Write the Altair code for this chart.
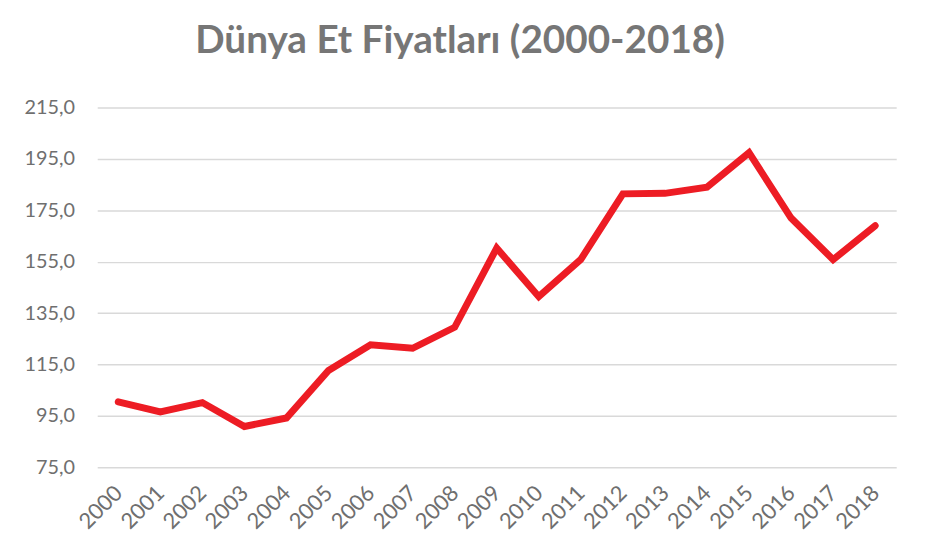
import altair as alt
import pandas as pd

years = [str(y) for y in range(2000, 2019)]
values = [100.5, 96.6, 100.2, 90.9, 94.2, 112.7, 122.7, 121.3, 129.5, 160.3,
          141.4, 155.9, 181.4, 181.6, 184.0, 197.4, 172.0, 155.8, 169.0]
y_ticks = [75, 95, 115, 135, 155, 175, 195, 215]
title_text = "Dünya Et Fiyatları (2000-2018)"

df = pd.DataFrame({"Yıl": years, "Fiyat": values})

FONT = "Lato"
GREY = "#6f6f6f"

chart = alt.Chart(df).mark_line(
    color="#ED1C24", strokeWidth=7, strokeCap="round", strokeJoin="miter"
).encode(
    x=alt.X("Yıl:O", sort=years, title=None,
            axis=alt.Axis(labelAngle=-45, labelAlign="right", labelBaseline="middle",
                          labelPadding=22, domain=False, ticks=False, grid=False,
                          labelFont=FONT, labelFontSize=22, labelColor=GREY)),
    y=alt.Y("Fiyat:Q", title=None,
            scale=alt.Scale(domain=[75, 215], nice=False, zero=False),
            axis=alt.Axis(values=y_ticks, domain=False, ticks=False,
                          labelExpr="replace(format(datum.value, '.1f'), '.', ',')",
                          labelPadding=23, labelFont=FONT, labelFontSize=20,
                          labelColor=GREY, gridColor="#d9d9d9", gridWidth=1.5)),
).properties(
    width=806,
    height=363,
    title=alt.TitleParams(title_text, anchor="middle", frame="group", dx=-37,
                          baseline="alphabetic", offset=6, font=FONT,
                          fontSize=39, fontWeight="bold", color="#767676"),
    autosize=alt.AutoSizeParams(type="none"),
    padding={"left": 90, "top": 98, "right": 25, "bottom": 78},
).configure_view(stroke=None)

chart.save("out.html", embed_options={"renderer": "svg", "actions": False})
